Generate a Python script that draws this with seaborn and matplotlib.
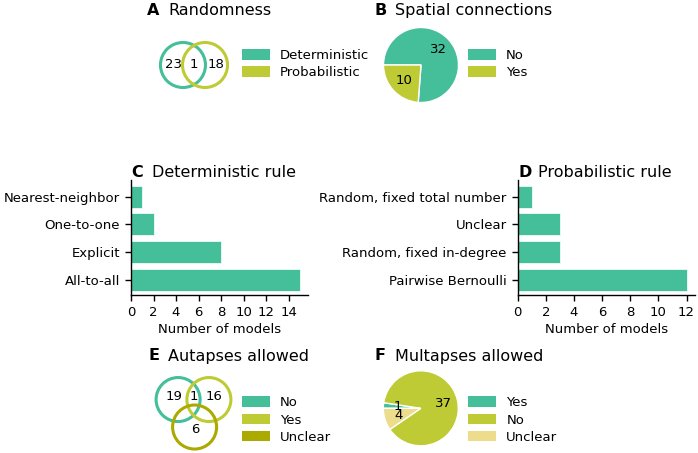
import matplotlib
matplotlib.use("Agg")
import matplotlib.pyplot as plt
from matplotlib.patches import Circle, Patch
import seaborn as sns

# ---- data ----
random_labels = ["Deterministic", "Probabilistic"]
random_counts = [23, 1, 18]          # det only, both, prob only

spatial_labels = ["No", "Yes"]
spatial_counts = [32, 10]

det_rules = ["Nearest-neighbor", "One-to-one", "Explicit", "All-to-all"]
det_counts = [1, 2, 8, 15]

prob_rules = ["Random, fixed total number", "Unclear", "Random, fixed in-degree", "Pairwise Bernoulli"]
prob_counts = [1, 3, 3, 12]

autapse_labels = ["No", "Yes", "Unclear"]
autapse_counts = [19, 1, 16, 6]      # no only, no & yes, yes only, unclear

multapse_labels = ["Yes", "No", "Unclear"]
multapse_counts = [1, 37, 4]

# ---- style ----
teal = "#45BE9A"
lime = "#BECB34"
olive = "#ABAA00"
beige = "#ECDC8B"

W, H = 698, 453
sns.set_style("ticks")
plt.rcParams['font.family'] = ['DejaVu Sans']
plt.rcParams['axes.linewidth'] = 1.0
for key in ['text.color', 'axes.labelcolor', 'xtick.color', 'ytick.color', 'axes.edgecolor']:
    plt.rcParams[key] = 'black'

fig = plt.figure(figsize=(W / 100, H / 100), dpi=100)


def px_axes(l, t, r, b):
    return fig.add_axes([l / W, 1 - b / H, (r - l) / W, (b - t) / H])


def unit_axes(cx, cy, s, hw, hh):
    ax = px_axes(cx - hw * s, cy - hh * s, cx + hw * s, cy + hh * s)
    ax.set_xlim(-hw, hw)
    ax.set_ylim(-hh, hh)
    ax.axis('off')
    return ax


def panel_title(letter, text, x_letter, x_text, y_base):
    fig.text(x_letter / W, 1 - y_base / H, letter, fontsize=11.5, fontweight='bold', va='baseline')
    fig.text(x_text / W, 1 - y_base / H, text, fontsize=11.5, va='baseline')


def patch_legend(labels, colors, x, yc):
    handles = [Patch(facecolor=c, edgecolor='none') for c in colors]
    fig.legend(handles, labels, loc='center left', bbox_to_anchor=(x / W, 1 - yc / H),
               frameon=False, fontsize=9.5, borderpad=0, borderaxespad=0,
               handlelength=2.15, handleheight=0.85, handletextpad=0.75, labelspacing=0.32)


def draw_pie(ax, counts, colors, startangle):
    total = sum(counts)
    ax.pie(counts, colors=colors, startangle=startangle, counterclock=False,
           autopct=lambda p: f"{round(p * total / 100):d}", pctdistance=0.62,
           wedgeprops=dict(edgecolor='white', linewidth=1),
           textprops=dict(fontsize=9.5, color='black'))
    ax.set_xlim(-1, 1)
    ax.set_ylim(-1, 1)


def draw_bars(ax, counts, rules, ticks):
    sns.barplot(x=counts, y=rules, orient='h', color=teal, saturation=1,
                edgecolor='white', linewidth=0.5, ax=ax)
    ax.set_ylim(3.55, -0.6)
    ax.set_xticks(ticks)
    ax.set_xlabel("Number of models", fontsize=9.5, labelpad=3)
    ax.set_ylabel("")
    ax.tick_params(labelsize=9.5, length=4.5, width=1, pad=3.5, colors='black')
    sns.despine(ax=ax)


# A: randomness venn
ax = unit_axes(194, 65, 22.5, 2, 1.2)
ax.add_patch(Circle((-0.49, 0), 1, fill=False, edgecolor=teal, lw=2.2))
ax.add_patch(Circle((0.49, 0), 1, fill=False, edgecolor=lime, lw=2.2))
for xpos, n in zip([-0.93, 0, 0.97], random_counts):
    ax.text(xpos, 0.03, str(n), ha='center', va='center', fontsize=9.5)
panel_title("A", "Randomness", 147, 168, 15)
patch_legend(random_labels, [teal, lime], 241.7, 64)

# B: spatial pie
ax = unit_axes(421, 65, 37.5, 1, 1)
draw_pie(ax, spatial_counts, [teal, lime], 180)
panel_title("B", "Spatial connections", 374, 395, 15)
patch_legend(spatial_labels, [teal, lime], 467.7, 64)

# C: deterministic rule
ax = px_axes(131, 180, 308.3, 295)
draw_bars(ax, det_counts, det_rules, range(0, 15, 2))
panel_title("C", "Deterministic rule", 131, 152, 177)

# D: probabilistic rule
ax = px_axes(517.7, 180, 695, 295)
draw_bars(ax, prob_counts, prob_rules, range(0, 13, 2))
panel_title("D", "Probabilistic rule", 518, 538, 177)

# E: autapses venn
ax = unit_axes(193.5, 409, 22, 2, 2)
ax.add_patch(Circle((-0.70, 0.43), 1, fill=False, edgecolor=teal, lw=2.2))
ax.add_patch(Circle((0.70, 0.43), 1, fill=False, edgecolor=lime, lw=2.2))
ax.add_patch(Circle((0.05, -0.82), 1, fill=False, edgecolor=olive, lw=2.2))
for (xpos, ypos), n in zip([(-0.89, 0.55), (0, 0.55), (0.93, 0.55), (0.07, -0.91)], autapse_counts):
    ax.text(xpos, ypos, str(n), ha='center', va='center', fontsize=9.5)
panel_title("E", "Autapses allowed", 148, 168, 360.5)
patch_legend(autapse_labels, [teal, lime, olive], 241.7, 420)

# F: multapses pie
ax = unit_axes(420.8, 408.3, 37.5, 1, 1)
draw_pie(ax, multapse_counts, [teal, lime, beige], 180)
panel_title("F", "Multapses allowed", 375, 395, 360.5)
patch_legend(multapse_labels, [teal, lime, beige], 468, 420)

fig.savefig("out.png", dpi=100)
